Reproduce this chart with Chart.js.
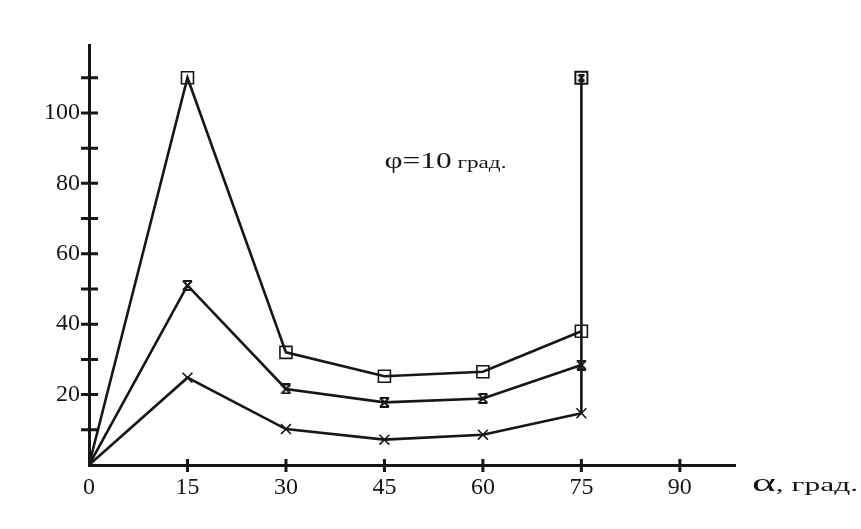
<!DOCTYPE html>
<html>
<head>
<meta charset="utf-8">
<script src="https://cdn.jsdelivr.net/npm/chart.js@4"></script>
<style>
  html, body { margin: 0; padding: 0; background: #fff; }
  #wrap { width: 861px; height: 529px; }
</style>
</head>
<body>
<div id="wrap"><canvas id="myChart" width="861" height="529"></canvas></div>
<script>
// angle alpha, degrees
const angles = [0, 15, 30, 45, 60, 75];
// the three curves
const squareVals = [0, 110, 32, 25.2, 26.5, 38];
const hourglassVals = [0, 51, 21.6, 17.8, 18.9, 28.4];
const crossVals = [0, 24.8, 10.2, 7.2, 8.6, 14.7];
// vertical line at alpha = 75
const verticalX = [75, 75];
const verticalY = [14.7, 110];

const xTicks = [0, 15, 30, 45, 60, 75, 90];
const yTickLabels = [20, 40, 60, 80, 100];
const yTickMarks = [10, 20, 30, 40, 50, 60, 70, 80, 90, 100, 110];

const ink = '#161616';
const serif = '"Liberation Serif", "Times New Roman", serif';

// hourglass marker: X with bars on top and bottom
function hourglass(size) {
  const c = document.createElement('canvas');
  c.width = size; c.height = size;
  const g = c.getContext('2d');
  g.strokeStyle = ink;
  g.lineWidth = 2;
  g.beginPath();
  g.moveTo(1, 1); g.lineTo(size - 1, 1);
  g.moveTo(1, size - 1); g.lineTo(size - 1, size - 1);
  g.moveTo(1, 1); g.lineTo(size - 1, size - 1);
  g.moveTo(size - 1, 1); g.lineTo(1, size - 1);
  g.stroke();
  return c;
}

const pts = vals => vals.map((v, i) => ({ x: angles[i], y: v }));
const hideFirst = r => ctx => ctx.dataIndex === 0 ? 0 : r;

const datasets = [
  {
    label: 'square',
    data: pts(squareVals),
    pointStyle: 'rect',
    pointRadius: hideFirst(8.5),
    borderColor: ink,
    backgroundColor: 'rgba(0,0,0,0)',
    pointBorderWidth: 1.6
  },
  {
    label: 'hourglass',
    data: pts(hourglassVals),
    pointStyle: hourglass(11),
    pointRadius: hideFirst(6),
    borderColor: ink,
    backgroundColor: 'rgba(0,0,0,0)'
  },
  {
    label: 'cross',
    data: pts(crossVals),
    pointStyle: 'crossRot',
    pointRadius: hideFirst(7),
    borderColor: ink,
    backgroundColor: 'rgba(0,0,0,0)',
    pointBorderWidth: 1.6
  },
  {
    label: 'vertical',
    data: verticalX.map((x, i) => ({ x: x, y: verticalY[i] })),
    pointStyle: 'rect',
    pointRadius: ctx => ctx.dataIndex === 1 ? 8.5 : 0,
    borderColor: ink,
    backgroundColor: 'rgba(0,0,0,0)',
    pointBorderWidth: 2
  },
  {
    label: 'top',
    data: [{ x: 75, y: 110 }],
    pointStyle: hourglass(8),
    pointRadius: 4,
    showLine: false,
    borderColor: ink
  }
].map(d => Object.assign({ showLine: d.showLine !== false, borderWidth: 2.6, fill: false, tension: 0 }, d));

// draw two-part text squeezed/stretched to a given width
function stretchedText(ctx, parts, x, y, width) {
  let natural = 0;
  parts.forEach(p => { ctx.font = p.font; natural += ctx.measureText(p.text).width; });
  const k = width / natural;
  ctx.save();
  ctx.translate(x, y);
  ctx.scale(k, 1);
  let cx = 0;
  parts.forEach(p => {
    ctx.font = p.font;
    ctx.fillText(p.text, cx, 0);
    cx += ctx.measureText(p.text).width;
  });
  ctx.restore();
}

// crossing tick marks on both axes plus the text notes
const axisDecor = {
  id: 'axisDecor',
  afterDraw(chart) {
    const { ctx, chartArea, scales } = chart;
    const x = scales.x, y = scales.y;
    ctx.save();
    ctx.strokeStyle = ink;
    ctx.lineWidth = 3;
    ctx.beginPath();
    yTickMarks.forEach(v => {
      const py = y.getPixelForValue(v);
      ctx.moveTo(chartArea.left - 8, py);
      ctx.lineTo(chartArea.left + 9, py);
    });
    xTicks.slice(1).forEach(v => {
      const px = x.getPixelForValue(v);
      ctx.moveTo(px, chartArea.bottom - 6);
      ctx.lineTo(px, chartArea.bottom + 7);
    });
    ctx.stroke();

    ctx.fillStyle = ink;
    ctx.textBaseline = 'alphabetic';
    ctx.textAlign = 'left';
    stretchedText(ctx, [
      { text: 'φ=10', font: '23px ' + serif },
      { text: ' град.', font: '17px ' + serif }
    ], x.getPixelForValue(45), y.getPixelForValue(84.5), 122);

    stretchedText(ctx, [
      { text: 'α', font: '26px ' + serif },
      { text: ', град.', font: '18px ' + serif }
    ], chartArea.right + 17, chartArea.bottom + 26, 106);
    ctx.restore();
  }
};

const config = {
  type: 'scatter',
  data: { datasets: datasets },
  options: {
    responsive: false,
    animation: false,
    layout: { padding: { left: 0, top: 45, right: 126, bottom: 0 } },
    plugins: {
      legend: { display: false },
      tooltip: { enabled: false }
    },
    scales: {
      x: {
        type: 'linear',
        min: 0,
        max: 98.4,
        afterBuildTicks: s => { s.ticks = xTicks.map(v => ({ value: v })); },
        afterFit: s => { s.height = 64; },
        grid: { display: true, drawOnChartArea: false, drawTicks: false },
        border: { display: true, color: ink, width: 3 },
        ticks: {
          padding: 8,
          color: ink,
          maxRotation: 0,
          font: { family: serif, size: 24 }
        }
      },
      y: {
        type: 'linear',
        min: 0,
        max: 119.3,
        afterBuildTicks: s => { s.ticks = yTickLabels.map(v => ({ value: v })); },
        afterFit: s => { s.width = 89; },
        grid: { display: true, drawOnChartArea: false, drawTicks: false },
        border: { display: true, color: ink, width: 3 },
        ticks: {
          padding: 9,
          color: ink,
          font: { family: serif, size: 24 }
        }
      }
    }
  },
  plugins: [axisDecor]
};

const ctx = document.getElementById('myChart').getContext('2d');
new Chart(ctx, config);
</script>
</body>
</html>
